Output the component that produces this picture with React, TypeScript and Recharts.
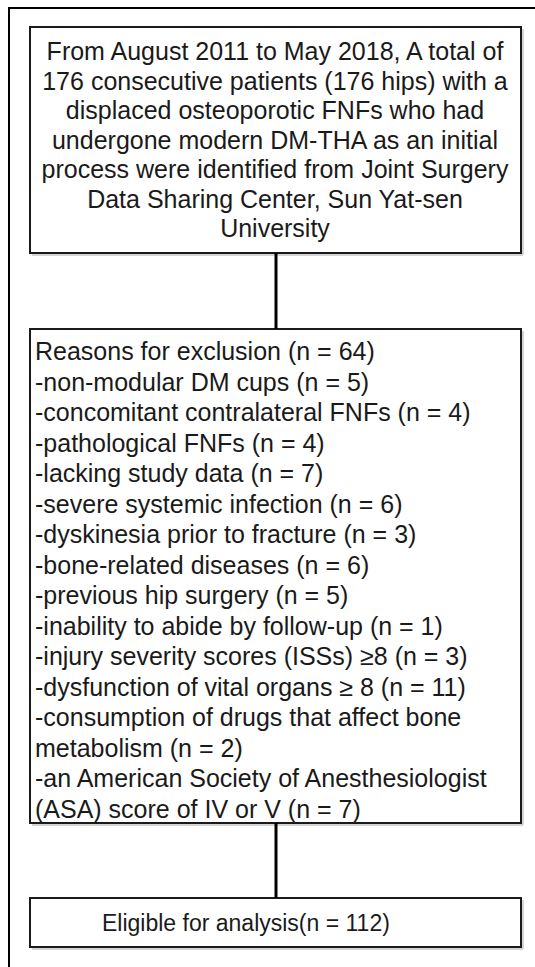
import React from "react";
import {
  ScatterChart,
  Scatter,
  XAxis,
  YAxis,
  ReferenceArea,
  ReferenceLine,
} from "recharts";

// flow chart content
const intakeLines = [
  "From August 2011 to May 2018, A total of",
  "176 consecutive patients (176 hips) with a",
  "displaced osteoporotic FNFs who had",
  "undergone modern DM-THA as an initial",
  "process were identified from Joint Surgery",
  "Data Sharing Center, Sun Yat-sen",
  "University",
];

const exclusionTitle = "Reasons for exclusion";

const exclusionReasons = [
  "non-modular DM cups",
  "concomitant contralateral FNFs",
  "pathological FNFs",
  "lacking study data",
  "severe systemic infection",
  "dyskinesia prior to fracture",
  "bone-related diseases",
  "previous hip surgery",
  "inability to abide by follow-up",
  "injury severity scores (ISSs) ≥8",
  "dysfunction of vital organs ≥ 8",
  "consumption of drugs that affect bone\nmetabolism",
  "an American Society of Anesthesiologist\n(ASA) score of IV or V",
];

const exclusionCounts = [5, 4, 4, 7, 6, 3, 6, 5, 1, 3, 11, 2, 7];

const totalPatients = 176;
const eligibleTitle = "Eligible for analysis";

// layout
const W = 535;
const H = 967;
const BOX_LEFT = 30;
const BOX_RIGHT = 521;
const boxes = [
  { y1: 27, y2: 253 },
  { y1: 329, y2: 823 },
  { y1: 898, y2: 947 },
];
const LINK_X = 276;
const FONT = '"Liberation Sans", Arial, Helvetica, sans-serif';

if (typeof document !== "undefined") document.body.style.margin = "0";

const excluded = exclusionCounts.reduce((a, b) => a + b, 0);

const exclusionLines: string[] = [`${exclusionTitle} (n = ${excluded})`];
exclusionReasons.forEach((r, i) => {
  const parts = `-${r} (n = ${exclusionCounts[i]})`.split("\n");
  parts.forEach((p) => exclusionLines.push(p));
});

const textRows = [
  ...intakeLines.map((t, i) => ({
    x: 275,
    y: 51 + i * 29.5,
    text: t,
    anchor: "middle",
    size: 25,
  })),
  ...exclusionLines.map((t, i) => ({
    x: 35,
    y: 351 + i * 30.5,
    text: t,
    anchor: "start",
    size: 25,
  })),
  {
    x: 102,
    y: 923,
    text: `${eligibleTitle}(n = ${totalPatients - excluded})`,
    anchor: "start",
    size: 23,
  },
];

const TextMark = (props: any) => {
  const { cx, cy, payload } = props;
  return (
    <text
      x={cx}
      y={cy}
      textAnchor={payload.anchor}
      dominantBaseline="central"
      fontSize={payload.size}
      fontFamily={FONT}
      fill="#1a1a1a"
    >
      {payload.text}
    </text>
  );
};

export default function App() {
  return (
    <div style={{ width: W, height: H, background: "#fff" }}>
      <ScatterChart width={W} height={H} margin={{ top: 0, right: 0, bottom: 0, left: 0 }}>
        <XAxis type="number" dataKey="x" domain={[0, W]} hide allowDataOverflow />
        <YAxis type="number" dataKey="y" domain={[0, H]} reversed hide allowDataOverflow />

        {/* outer frame (top + left edges only) */}
        <ReferenceLine
          segment={[{ x: 8, y: 8 }, { x: W, y: 8 }]}
          stroke="#000"
          strokeWidth={2}
          ifOverflow="visible"
        />
        <ReferenceLine
          segment={[{ x: 9, y: 8 }, { x: 9, y: H }]}
          stroke="#000"
          strokeWidth={2}
          ifOverflow="visible"
        />

        {/* soft shadows */}
        {boxes.map((b, i) => (
          <ReferenceLine
            key={`sb${i}`}
            segment={[{ x: BOX_LEFT + 2, y: b.y2 + 2 }, { x: BOX_RIGHT + 2, y: b.y2 + 2 }]}
            stroke="#d4d4d4"
            strokeWidth={2}
            ifOverflow="visible"
          />
        ))}
        {boxes.map((b, i) => (
          <ReferenceLine
            key={`sr${i}`}
            segment={[{ x: BOX_RIGHT + 2, y: b.y1 + 2 }, { x: BOX_RIGHT + 2, y: b.y2 + 2 }]}
            stroke="#d4d4d4"
            strokeWidth={2}
            ifOverflow="visible"
          />
        ))}

        {boxes.map((b, i) => (
          <ReferenceArea
            key={`b${i}`}
            x1={BOX_LEFT}
            x2={BOX_RIGHT}
            y1={b.y1}
            y2={b.y2}
            fill="none"
            stroke="#1a1a1a"
            strokeWidth={2}
            ifOverflow="visible"
          />
        ))}

        {/* connectors */}
        {boxes.slice(1).map((b, i) => (
          <ReferenceLine
            key={`c${i}`}
            segment={[{ x: LINK_X, y: boxes[i].y2 }, { x: LINK_X, y: b.y1 }]}
            stroke="#000"
            strokeWidth={3}
            ifOverflow="visible"
          />
        ))}

        <Scatter data={textRows} shape={<TextMark />} isAnimationActive={false} />
      </ScatterChart>
    </div>
  );
}
